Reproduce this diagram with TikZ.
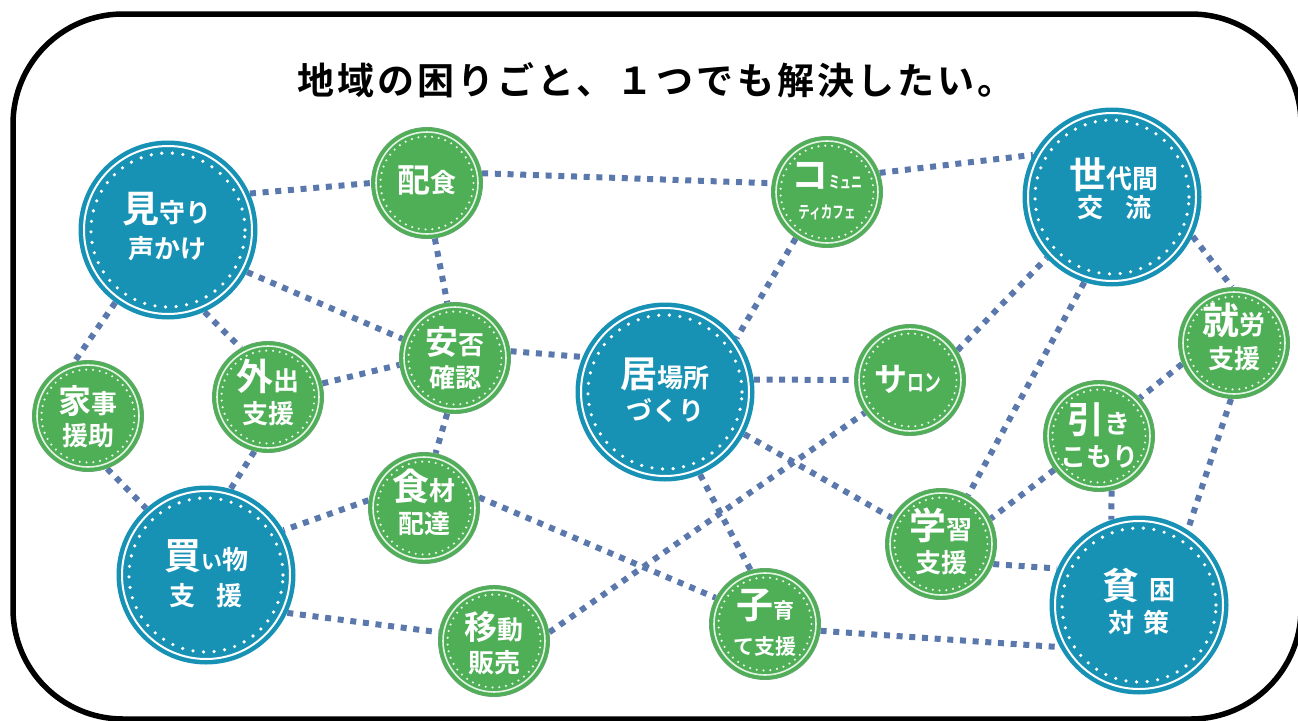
\documentclass[tikz,border=0pt]{standalone}
\usepackage{fontspec}
\usepackage{graphicx}
\setmainfont{Noto Sans CJK JP}[BoldFont={* Bold}]
\usetikzlibrary{backgrounds}
\definecolor{tealbub}{HTML}{1792B5}
\definecolor{greenbub}{HTML}{4FAF56}
\definecolor{greenedge}{HTML}{62A86C}
\definecolor{linkblue}{HTML}{5A78AC}
\tikzset{
  x=1pt,y=-1pt,
  bigbub/.style={circle,fill=tealbub,minimum size=179pt,inner sep=0pt},
  smallbub/.style={circle,fill=greenbub,draw=greenedge,line width=1pt,minimum size=111pt,inner sep=0pt},
  lbl/.style={text=white,align=center,inner sep=0pt,font=\bfseries\fontsize{26}{36}\selectfont},
  link/.style={draw=linkblue,line width=6pt,dash pattern=on 6pt off 6.7pt},
  outer/.style={draw=black,line width=5.5pt,rounded corners=110pt},
}
\newcommand\La[1]{{\fontsize{37}{36}\selectfont #1}}
\newcommand\Lb[1]{{\fontsize{33}{36}\selectfont #1}}
\newcommand\Md[1]{{\fontsize{26}{36}\selectfont #1}}
\newcommand\Sm[1]{{\fontsize{21}{36}\selectfont #1}}
\newcommand\Nar[3]{{\fontsize{#1}{36}\selectfont\scalebox{#2}[1]{#3}}}
\newcommand\bigc[5]{%
  \node[bigbub] (#1) at (#2,#3) {};
  \draw[white,line width=2pt] (#1.center) circle (84pt);
  \draw[white,line width=3.6pt,line cap=round,dash pattern=on 0pt off 10.6pt] (#1.center) circle (77pt);
  \node[lbl] (#1-t) at ([shift={(#4)}]#1.center) {#5};
}
\newcommand\smc[5]{%
  \node[smallbub] (#1) at (#2,#3) {};
  \draw[white!85!greenbub,line width=1.6pt] (#1.center) circle (51pt);
  \draw[white!90!greenbub,line width=2.4pt,line cap=round,dash pattern=on 0pt off 6.8pt] (#1.center) circle (46.5pt);
  \node[lbl] (#1-t) at ([shift={(#4)}]#1.center) {#5};
}
\begin{document}
\begin{tikzpicture}
\useasboundingbox (0,0) rectangle (1298,720);
\begin{scope}
  \clip (0,0) rectangle (1298,720);
  \draw[outer] (13,14) rectangle (1301,719);
\end{scope}
\node[inner sep=0pt,font=\bfseries\fontsize{37}{44}\selectfont] (title) at (656,80) {\addfontfeature{LetterSpace=8.5}地域の困りごと、１つでも解決したい。};

\bigc{mimamori}{168}{230}{-1,-3}{\La{見}\Md{守り}\\\Md{声かけ}}
\bigc{sedai}{1112}{197}{2,-8}{\La{世}\Md{代間}\\[-7pt]\Md{交\hspace{22pt}流}}
\bigc{ibasho}{665}{392}{0,-2}{\La{居}\Md{場所}\\[-3pt]\Md{づくり}}
\bigc{kaimono}{206}{575}{0,-1}{\La{買}\Sm{い}\Md{物}\\\Md{支\hspace{22pt}援}}
\bigc{hinkon}{1139}{605}{0,-4}{\La{貧}\hspace{10pt}\Md{困}\\[-3pt]\Md{対\hspace{10pt}策}}

\smc{haishoku}{427}{183}{0,-3}{\Lb{配}\Md{食}}
\smc{komyu}{827}{192}{0,-1}{\La{コ}\Nar{17}{0.65}{ミュニ}\\[-6pt]\Nar{17}{0.68}{ティカフェ}}
\smc{anpi}{455}{358}{0,0}{\Lb{安}\Md{否}\\[-3pt]\Md{確認}}
\smc{gaishutsu}{268}{397}{0,-5}{\La{外}\Md{出}\\[-3pt]\Md{支援}}
\smc{kaji}{88}{416}{0,1}{\Lb{家}\Md{事}\\[-4pt]\Md{援助}}
\smc{shokuzai}{424}{508}{0,-6}{\La{食}\Md{材}\\[-3pt]\Md{配達}}
\smc{ido}{494}{641}{0,2}{\Lb{移}\Md{動}\\[-3pt]\Md{販売}}
\smc{kosodate}{765}{624}{0,-1}{\La{子}\Sm{育}\\\Sm{て支援}}
\smc{salon}{910}{380}{-2,-1}{\Lb{サ}\Nar{24}{0.7}{ロン}}
\smc{gakushu}{941}{544}{0,-3}{\La{学}\Md{習}\\[-3pt]\Md{支援}}
\smc{hiki}{1099}{436}{0,-1}{\La{引}\Md{き}\\[-3pt]\Md{こもり}}
\smc{shuro}{1234}{343}{0,-6}{\La{就}\Md{労}\\[-2pt]\Md{支援}}

\begin{pgfonlayer}{background}
\foreach \a/\b in {
  mimamori.24/haishoku.180, haishoku.-82/anpi.98, haishoku.10/komyu.171,
  komyu.20/sedai.152, komyu.236/ibasho.37, mimamori.-28/anpi.160,
  mimamori.234/kaji.104, mimamori.-66/gaishutsu.119, gaishutsu.14/anpi.187,
  gaishutsu.256/kaimono.74, kaji.-70/kaimono.132, anpi.7/ibasho.157,
  anpi.262/shokuzai.78, shokuzai.172/kaimono.30, shokuzai.11/kosodate.152,
  kaimono.-25/ido.171, ido.9/salon.216, ibasho.8/salon.180,
  ibasho.-28/gakushu.152, ibasho.-67/kosodate.105, salon.32/sedai.223,
  sedai.252/gakushu.61, sedai.-26/shuro.92, shuro.202/hiki.43,
  shuro.267/hinkon.57, hiki.217/gakushu.27, hiki.-77/hinkon.108,
  gakushu.-21/hinkon.156, kosodate.-7/hinkon.208}
  { \draw[link] (\a) -- (\b); }
\end{pgfonlayer}
\end{tikzpicture}
\end{document}
